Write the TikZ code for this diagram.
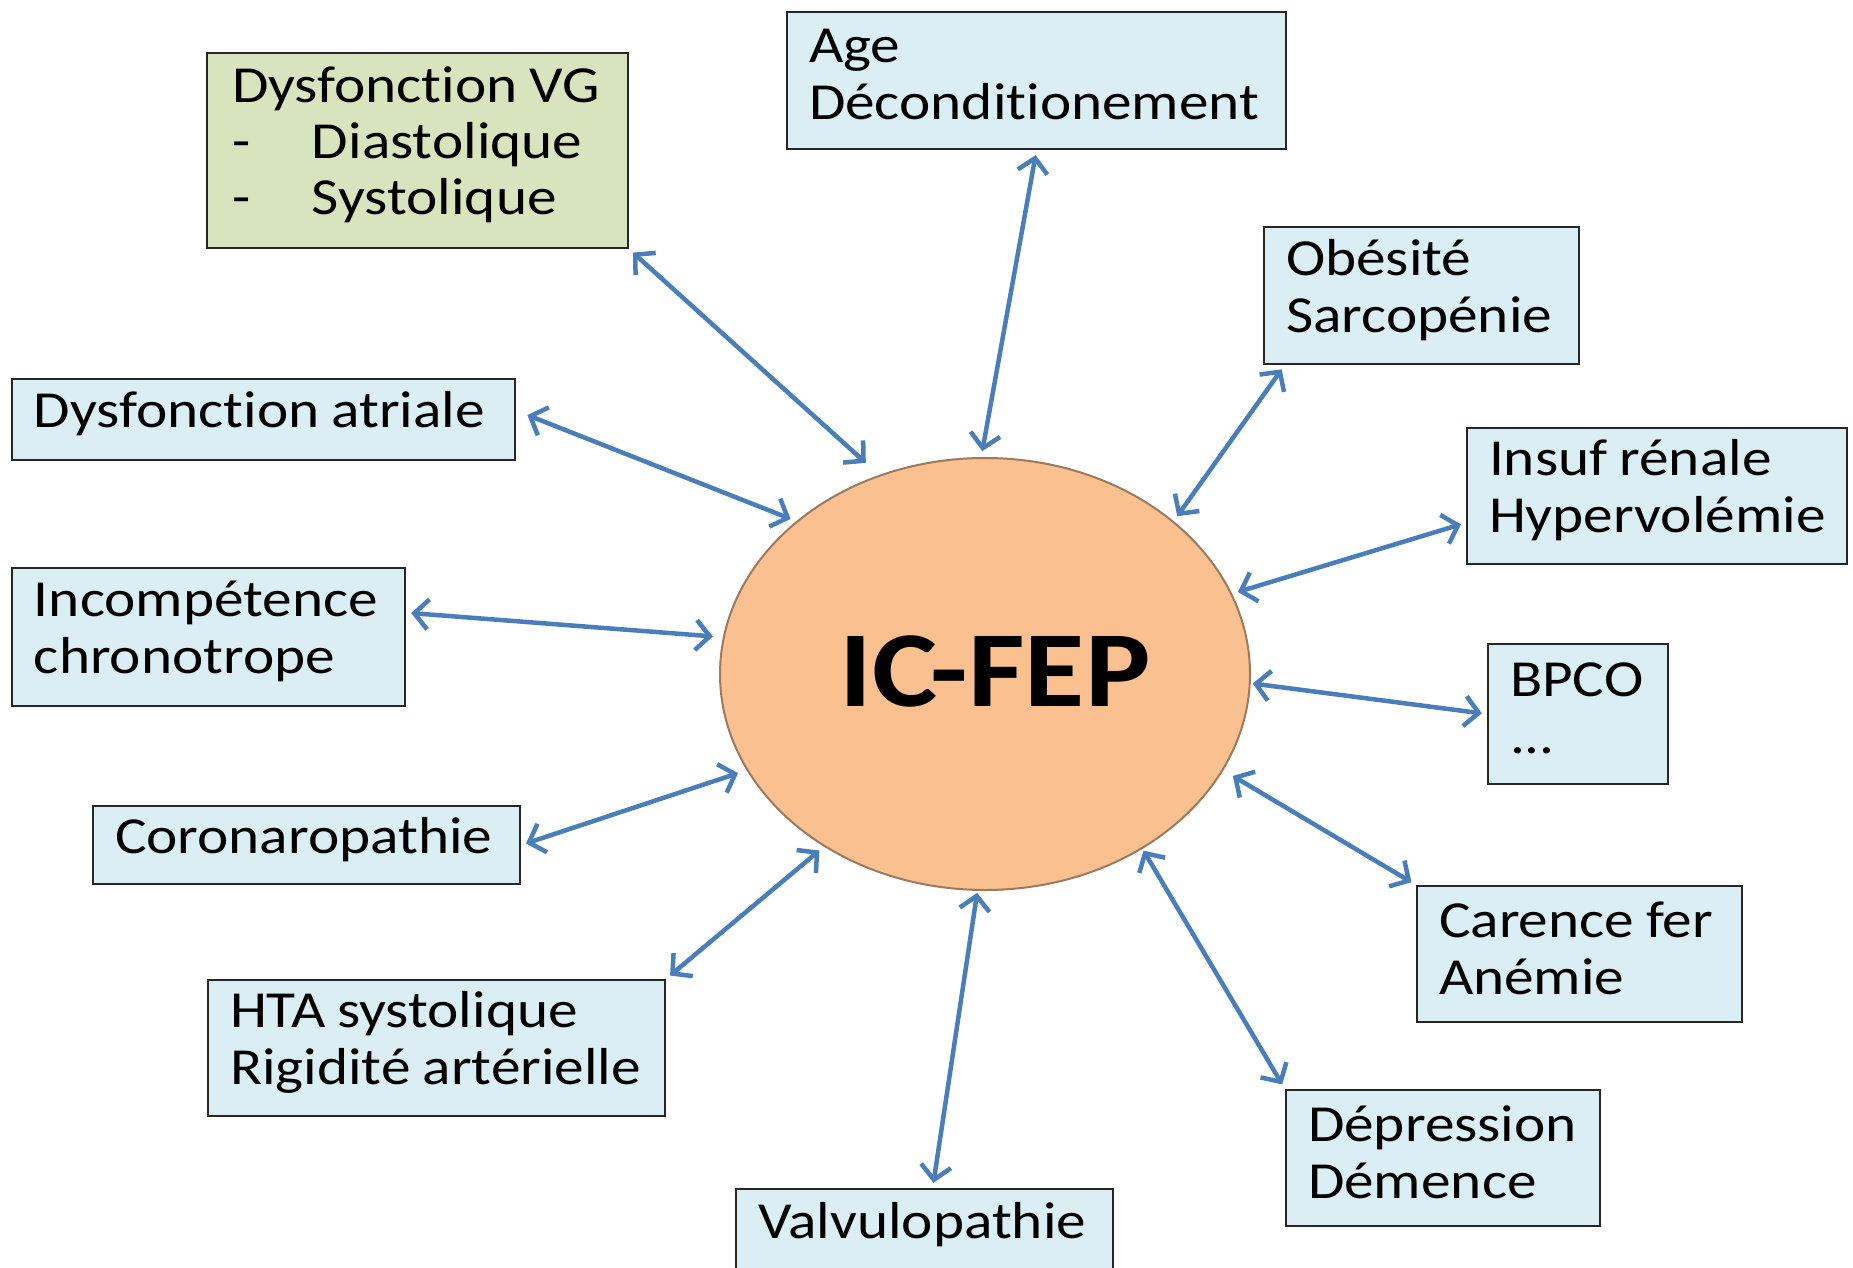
\documentclass[tikz,border=0pt]{standalone}
\usepackage{fontspec}
\setmainfont{Carlito}[FakeStretch=1.14,Ligatures=NoCommon]
\usetikzlibrary{arrows.meta,shapes.geometric}
\definecolor{boxblue}{HTML}{DBEEF4}
\definecolor{boxgreen}{HTML}{D7E4BD}
\definecolor{ovalfill}{HTML}{FAC090}
\definecolor{ovalline}{HTML}{9C7A5E}
\definecolor{arrowblue}{HTML}{4A7EBB}
\newcommand{\liftbox}{\endgraf\vspace{11pt}}
\newcommand{\wsp}{\kern12pt\relax}
\begin{document}
\begin{tikzpicture}[x=1pt,y=-1pt,
  box/.style={draw=black!85, line width=2.5pt, fill=boxblue, align=left,
    inner xsep=22pt, inner ysep=0pt, font=\fontsize{52}{57}\selectfont,
    execute at end node=\liftbox},
  conn/.style={draw=arrowblue, line width=4.5pt,
    {Straight Barb[length=14pt,width=30pt]}-{Straight Barb[length=14pt,width=30pt]},
    shorten <=5pt, shorten >=6pt}]
\clip (0,0) rectangle (1853,1268);
\fill[white] (0,0) rectangle (1853,1268);

\node[ellipse, draw=ovalline, line width=2pt, fill=ovalfill, inner sep=0pt,
  minimum width=530pt, minimum height=432pt,
  font=\bfseries\fontsize{108}{108}\selectfont] (c) at (985,674) {\hspace*{20pt}\raisebox{6pt}{IC-FEP}};

\node[box, fill=boxgreen, inner xsep=25pt, text width=371pt, minimum width=421pt,
  minimum height=195pt, font=\fontsize{52}{56}\selectfont] (vg) at (417.5,150.5)
  {Dysfonction\wsp VG\\\makebox[80pt][l]{-}Diastolique\\\makebox[80pt][l]{-}Systolique};
\node[box, text width=455pt, minimum width=499pt, minimum height=137pt] (age) at (1036.5,80.5)
  {Age\\Déconditionement};
\node[box, text width=271pt, minimum width=315pt, minimum height=137pt] (ob) at (1421.5,295.5)
  {Obésité\\Sarcopénie};
\node[box, text width=336pt, minimum width=380pt, minimum height=136pt] (ins) at (1657,496)
  {Insuf\wsp rénale\\Hypervolémie};
\node[box, text width=136pt, minimum width=180pt, minimum height=140pt] (bp) at (1578,714)
  {BPCO\\...};
\node[box, text width=281pt, minimum width=325pt, minimum height=136pt] (car) at (1579.5,954)
  {Carence\wsp fer\\Anémie};
\node[box, text width=270pt, minimum width=314pt, minimum height=136pt] (dep) at (1443,1158)
  {Dépression\\Démence};
\node[box, text width=333pt, minimum width=377pt, minimum height=82pt] (val) at (924.5,1230)
  {Valvulopathie};
\node[box, text width=413pt, minimum width=457pt, minimum height=136pt] (hta) at (436.5,1048)
  {HTA\wsp systolique\\Rigidité\wsp artérielle};
\node[box, text width=383pt, minimum width=427pt, minimum height=78pt] (cor) at (306.5,845)
  {Coronaropathie};
\node[box, text width=349pt, minimum width=393pt, minimum height=138pt] (inc) at (208.5,637)
  {Incompétence\\chronotrope};
\node[box, text width=459pt, minimum width=503pt, minimum height=81pt] (atr) at (263.5,419.5)
  {Dysfonction\wsp atriale};

\draw[conn, shorten >=18pt] (vg.south east) -- (c.118.4);
\draw[conn] (age.south) -- (c.91);
\draw[conn] (ob.207.6) -- (c.39.6);
\draw[conn] (ins.188) -- (c.18.5);
\draw[conn, shorten >=2pt] (bp.west) -- (c.-2);
\draw[conn, shorten >=11pt] (car.north west) -- (c.-22);
\draw[conn, shorten >=2pt] (dep.north west) -- (c.-48.8);
\draw[conn, shorten >=2pt] (val.79) -- (c.-92);
\draw[conn] (hta.north east) -- (c.-133.3);
\draw[conn, shorten >=9pt] (cor.east) -- (c.202);
\draw[conn, shorten >=10pt] (inc.7) -- (c.172);
\draw[conn, shorten <=12pt] (atr.2) -- (c.141.6);
\end{tikzpicture}
\end{document}
